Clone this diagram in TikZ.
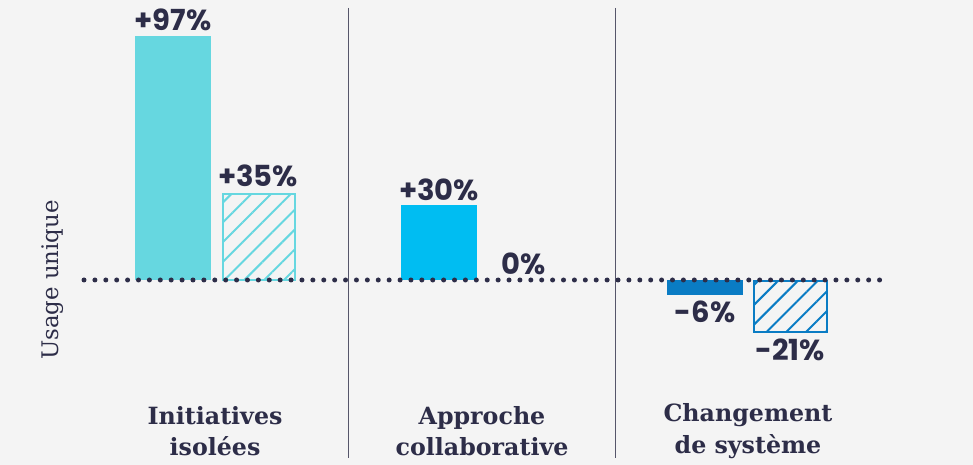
\documentclass[tikz,border=0pt]{standalone}
\usepackage{fontspec}
\setmainfont{DejaVu Serif}
\newfontfamily\numfont{Poppins}
\usetikzlibrary{patterns.meta}
\definecolor{bg}{HTML}{F4F4F4}
\definecolor{ink}{HTML}{2D2D48}
\definecolor{turq}{HTML}{66D7E0}
\definecolor{sky}{HTML}{00BDF2}
\definecolor{deep}{HTML}{0A7CC4}
\definecolor{sep}{HTML}{55556A}
\tikzstyle{pct} = [text=ink, font=\numfont\bfseries\fontsize{16.5}{18}\selectfont, inner sep=0pt]
\tikzstyle{cat} = [text=ink, font=\bfseries\fontsize{13.5}{18}\selectfont, align=center, inner sep=0pt]
\tikzstyle{hatch} = [line width=0.04cm, pattern={Lines[angle=45,distance=0.28cm,line width=0.04cm]}]

\begin{document}
\begin{tikzpicture}[x=0.02cm, y=-0.02cm]
                    \fill[bg] (0,0) rectangle (973,465);
                    \useasboundingbox (0,0) rectangle (973,465);
                    % separators
                    \draw[sep, line width=0.02cm] (348,8)--(348,458);
                    \draw[sep, line width=0.02cm] (615,8)--(615,458);
                    % bars
                    \fill[turq] (135,36) rectangle (211,280);
                    \draw[hatch, draw=turq, pattern color=turq] (223,194) rectangle (295,280);
                    \fill[sky] (401,205) rectangle (477,280);
                    \fill[deep] (667,280) rectangle (743,295);
                    \draw[hatch, draw=deep, pattern color=deep] (754,281) rectangle (827,332);
                    % values
                    \node[pct] (v1) at (173,20) {+97\%};
                    \node[pct] (v2) at (258,176) {+35\%};
                    \node[pct] (v3) at (439,190) {+30\%};
                    \node[pct] (v4) at (524,264) {0\%};
                    \node[pct] (v5) at (705,312) {-6\%};
                    \node[pct] (v6) at (790,350) {-21\%};
                    % categories
                    \node[cat] (c1) at (215,431) {Initiatives\\isolées};
                    \node[cat] (c2) at (482,431) {Approche\\collaborative};
                    \node[cat] (c3) at (748,431) {Changement\\de système};
                    \node[text=ink, font=\fontsize{13}{15}\selectfont, rotate=90, inner sep=0pt] (axis) at (53,280) {Usage unique};
                    % baseline
                    \draw[ink, line width=0.1cm, line cap=round, dash pattern=on 0pt off 0.218cm] (84,280)--(880,280);
                \end{tikzpicture}
\end{document}
